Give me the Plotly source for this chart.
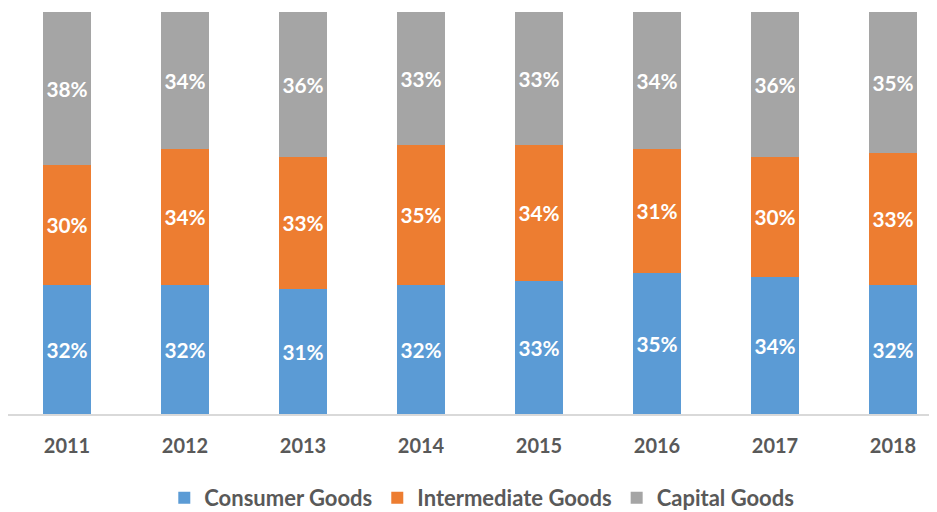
import plotly.graph_objects as go

years = ["2011", "2012", "2013", "2014", "2015", "2016", "2017", "2018"]
consumer = [32, 32, 31, 32, 33, 35, 34, 32]
intermediate = [30, 34, 33, 35, 34, 31, 30, 33]
capital = [38, 34, 36, 33, 33, 34, 36, 35]

series = [
    ("Consumer Goods", consumer, "#5B9BD5"),
    ("Intermediate Goods", intermediate, "#ED7D31"),
    ("Capital Goods", capital, "#A5A5A5"),
]

FONT = "Lato, 'Open Sans', sans-serif"

fig = go.Figure()
for name, vals, col in series:
    fig.add_trace(go.Bar(
        x=years, y=vals, name=name,
        marker=dict(color=col, line=dict(width=0)),
        width=0.4,
        text=[f"{v}%" for v in vals],
        textposition="inside",
        insidetextanchor="middle",
        textangle=0,
        textfont=dict(family=FONT, size=21, color="white", weight="bold"),
        hoverinfo="skip",
    ))

# page body has an 8px margin, so the figure is offset by (8, 8)
fig.update_layout(
    barmode="stack",
    width=929, height=504,
    margin=dict(l=0, r=0, t=4, b=98, autoexpand=False),
    paper_bgcolor="white",
    plot_bgcolor="white",
    uniformtext=dict(minsize=10, mode="show"),
    xaxis=dict(
        type="category",
        range=[-0.5, 7.373],
        showgrid=False,
        showline=True, linecolor="#D9D9D9", linewidth=2,
        ticks="", ticklabelstandoff=13,
        tickfont=dict(family=FONT, size=20, color="#595959", weight="bold"),
    ),
    yaxis=dict(range=[0, 100], visible=False, showgrid=False),
    legend=dict(
        orientation="h",
        x=0.51, xanchor="center",
        y=-0.209, yanchor="middle",
        font=dict(family=FONT, size=22, color="#595959", weight="bold"),
        itemwidth=30,
        traceorder="normal",
    ),
    showlegend=True,
)

fig.write_html("out.html")
